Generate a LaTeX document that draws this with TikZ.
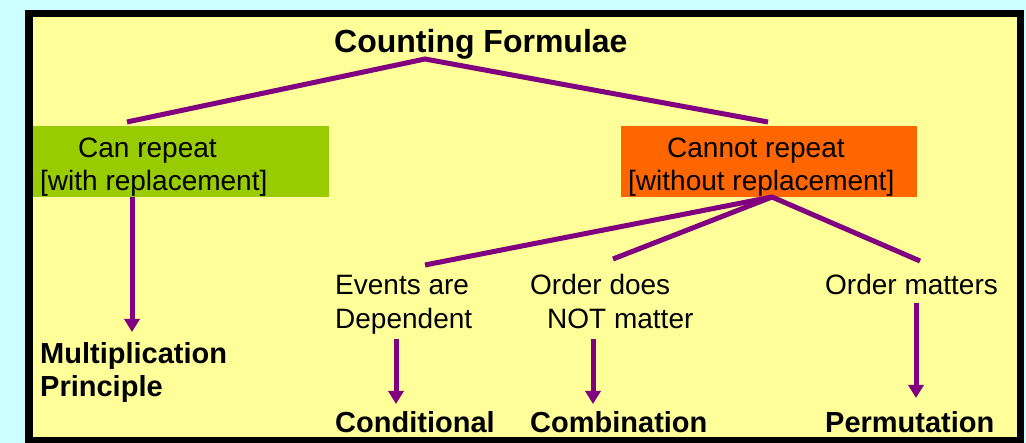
\documentclass[tikz,border=0pt]{standalone}
\usepackage{fontspec}
\setmainfont{Liberation Sans}
\usetikzlibrary{arrows.meta}
\definecolor{bgcyan}{HTML}{CCFFFF}
\definecolor{paneyellow}{HTML}{FFFF99}
\definecolor{boxgreen}{HTML}{99CC00}
\definecolor{boxorange}{HTML}{FF6600}
\definecolor{linkpurple}{HTML}{800080}
\tikzset{
  txt/.style={anchor=base west, inner sep=0pt, font=\fontsize{28}{33}\selectfont},
  btxt/.style={anchor=base west, inner sep=0pt, font=\fontsize{29}{34}\selectfont\bfseries},
  colbox/.style={draw=none, minimum width=296pt, minimum height=71pt, inner sep=0pt},
  link/.style={draw=linkpurple, line width=5pt},
  arr/.style={draw=linkpurple, line width=5pt, -{Triangle[width=15pt,length=13pt]}}
}
\begin{document}
\begin{tikzpicture}[x=1pt,y=-1pt]
\useasboundingbox (0,0) rectangle (1026,443);
\fill[bgcyan] (0,0) rectangle (1026,443);
\fill[black] (25,10) rectangle (1024,450);
\fill[paneyellow] (33,17) rectangle (1017,437);

% boxes
\node[colbox, fill=boxgreen] (gbox) at (181,161.5) {};
\node[colbox, fill=boxorange] (obox) at (769,161.5) {};

% texts
\node[btxt, font=\fontsize{32}{36}\selectfont\bfseries] (title) at (334,53) {Counting Formulae};
\node[txt] (can1) at (78,157.5) {Can repeat};
\node[txt] (can2) at (40,190.5) {[with replacement]};
\node[txt] (cannot1) at (667,157.5) {Cannot repeat};
\node[txt] (cannot2) at (628,190.5) {[without replacement]};
\node[txt] (ev1) at (335,294.5) {Events are};
\node[txt] (ev2) at (335,328.5) {Dependent};
\node[txt] (od1) at (530,294.5) {Order does};
\node[txt] (od2) at (547,328.5) {NOT matter};
\node[txt] (om) at (825,294.5) {Order matters};
\node[btxt] (mult1) at (40,364) {Multiplication};
\node[btxt] (mult2) at (40,397) {Principle};
\node[btxt] (cond) at (335,432.5) {Conditional};
\node[btxt] (comb) at (530,432.5) {Combination};
\node[btxt] (perm) at (825,432.5) {Permutation};

% connector end points
\coordinate (apex) at (425,59);
\coordinate (gtop) at (127,122);
\coordinate (otop) at (768,122);
\coordinate (obot) at (772,197);
\coordinate (evtop) at (425,265);
\coordinate (odtop) at (613,259);
\coordinate (omtop) at (920,261);
\coordinate (gbot) at (132,197);
\coordinate (multtop) at (132,332);
\coordinate (evbot) at (396,339);
\coordinate (condtop) at (396,404);
\coordinate (odbot) at (593,339);
\coordinate (combtop) at (593,404);
\coordinate (ombot) at (916,303);
\coordinate (permtop) at (916,398);

\draw[link] (gtop) -- (apex) -- (otop);
\draw[link] (evtop) -- (obot) -- (omtop);
\draw[link] (obot) -- (odtop);
\draw[arr] (gbot) -- (multtop);
\draw[arr] (evbot) -- (condtop);
\draw[arr] (odbot) -- (combtop);
\draw[arr] (ombot) -- (permtop);
\end{tikzpicture}
\end{document}
